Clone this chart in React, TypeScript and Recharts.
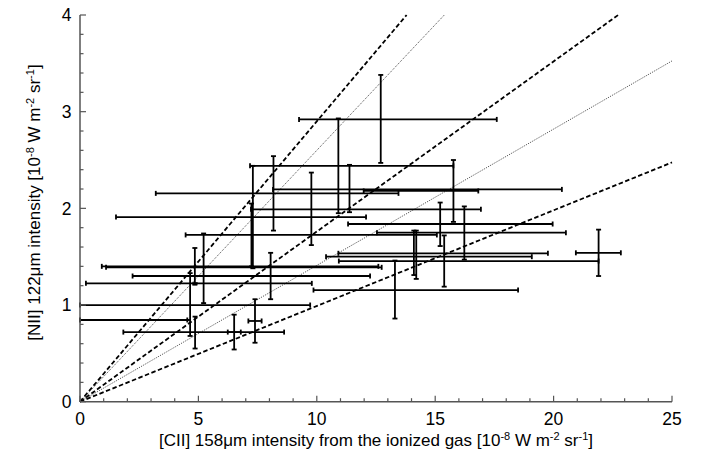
import React from 'react';
import { ComposedChart, Scatter, XAxis, YAxis, ErrorBar, ReferenceLine } from 'recharts';

// ---- data ----
const pointX = [12.7, 10.91, 8.17, 11.38, 9.77, 15.77, 7.3, 7.24, 15.21, 16.23, 14.1, 14.2, 15.38, 21.9, 13.3, 5.22, 4.85, 8.05, 4.86, 4.65, 4.53, 4.86, 6.51, 7.39];
const pointY = [2.92, 2.44, 2.155, 2.196, 1.99, 2.18, 1.91, 1.725, 1.838, 1.748, 1.535, 1.5, 1.455, 1.54, 1.155, 1.39, 1.4, 1.3, 1.224, 1.0, 0.845, 0.72, 0.72, 0.835];
const xLow = [9.25, 7.18, 3.2, 8.15, 7.22, 11.98, 1.52, 4.46, 11.32, 12.54, 10.91, 10.39, 10.93, 20.94, 9.86, 1.1, 0.92, 2.22, 0.25, 0, 0, 1.83, 6.24, 7.11];
const xHigh = [17.6, 15.77, 13.45, 20.35, 16.93, 16.82, 12.08, 15.07, 19.96, 20.52, 19.76, 19.08, 21.9, 22.84, 18.5, 12.74, 12.6, 12.25, 9.79, 9.72, 4.53, 8.62, 6.79, 7.67];
const yLow = [2.47, 1.95, 1.77, 1.96, 1.62, 1.86, 1.38, 1.4, 1.61, 1.47, 1.31, 1.27, 1.19, 1.3, 0.86, 1.02, 1.21, 1.06, 1.224, 0.68, 0.845, 0.55, 0.54, 0.61];
const yHigh = [3.38, 2.93, 2.54, 2.45, 2.37, 2.5, 2.44, 2.05, 2.06, 2.02, 1.77, 1.77, 1.72, 1.78, 1.46, 1.74, 1.59, 1.54, 1.224, 1.33, 0.845, 0.88, 0.9, 1.06];

// ratio lines through the origin
const ratioSlopes = [0.29, 0.26, 0.176, 0.141, 0.099];
const ratioStyles = ['dashed', 'dotted', 'dashed', 'dotted', 'dashed'];

const xDomain: [number, number] = [0, 25];
const yDomain: [number, number] = [0, 4];
const xTicks = [0, 1, 2, 3, 4, 5, 6, 7, 8, 9, 10, 11, 12, 13, 14, 15, 16, 17, 18, 19, 20, 21, 22, 23, 24, 25];
const yTicks = [0, 0.2, 0.4, 0.6, 0.8, 1, 1.2, 1.4, 1.6, 1.8, 2, 2.2, 2.4, 2.6, 2.8, 3, 3.2, 3.4, 3.6, 3.8, 4];

const data = pointX.map((x, i) => ({
  x,
  y: pointY[i],
  ex: [x - xLow[i], xHigh[i] - x],
  ey: [pointY[i] - yLow[i], yHigh[i] - pointY[i]],
}));

const FONT = '"Liberation Sans", Arial, Helvetica, sans-serif';
const AXIS = '#555';
const TICK_FS = 17.5;
const TITLE_FS = 17;

const isInt = (v: number) => Math.abs(v - Math.round(v)) < 1e-6;

const BottomTick = (p: any) => {
  const v = p.payload.value;
  const major = v % 5 === 0;
  return (
    <g>
      <line x1={p.x} y1={p.y} x2={p.x} y2={p.y - (major ? 6 : 3.5)} stroke={AXIS} strokeWidth={1.2} />
      {major && (
        <text x={p.x} y={p.y + 23} textAnchor="middle" fontSize={TICK_FS} fontFamily={FONT} fill="#000">{v}</text>
      )}
    </g>
  );
};
const TopTick = (p: any) => {
  const v = p.payload.value;
  const major = v % 5 === 0;
  return <line x1={p.x} y1={p.y} x2={p.x} y2={p.y + (major ? 6 : 3.5)} stroke={AXIS} strokeWidth={1.2} />;
};
const LeftTick = (p: any) => {
  const v = p.payload.value;
  const major = isInt(v);
  return (
    <g>
      <line x1={p.x} y1={p.y} x2={p.x + (major ? 6 : 3.5)} y2={p.y} stroke={AXIS} strokeWidth={1.2} />
      {major && (
        <text x={p.x - 8.5} y={p.y + 6.2} textAnchor="end" fontSize={TICK_FS} fontFamily={FONT} fill="#000">{Math.round(v)}</text>
      )}
    </g>
  );
};
const RightTick = (p: any) => {
  const v = p.payload.value;
  const major = isInt(v);
  return <line x1={p.x} y1={p.y} x2={p.x - (major ? 6 : 3.5)} y2={p.y} stroke={AXIS} strokeWidth={1.2} />;
};

const SUP = 11;
const unitSpans = () => [
  <tspan key="a">[10</tspan>,
  <tspan key="b" dy={-6} fontSize={SUP}>-8</tspan>,
  <tspan key="c" dy={6}> W m</tspan>,
  <tspan key="d" dy={-6} fontSize={SUP}>-2</tspan>,
  <tspan key="e" dy={6}> sr</tspan>,
  <tspan key="f" dy={-6} fontSize={SUP}>-1</tspan>,
  <tspan key="g" dy={6}>]</tspan>,
];

const XTitle = () => (
  <text x={376} y={445.5} textAnchor="middle" fontSize={TITLE_FS} fontFamily={FONT} fill="#000">
    <tspan>[CII] 158μm intensity from the ionized gas </tspan>
    {unitSpans()}
  </text>
);
const YTitle = () => (
  <text transform="translate(40,202.5) rotate(-90)" textAnchor="middle" fontSize={TITLE_FS} fontFamily={FONT} fill="#000">
    <tspan>[NII] 122μm intensity </tspan>
    {unitSpans()}
  </text>
);

const Nothing = () => <g />;

export default function App() {
  return (
    <div style={{ marginTop: -8, marginLeft: -8, width: 706, height: 455, background: '#fff' }}>
      <ComposedChart
        width={706}
        height={455}
        data={data}
        margin={{ top: 15, right: 34, bottom: 0, left: 0 }}
        style={{ overflow: 'visible' }}
      >
        <XAxis
          xAxisId="x"
          dataKey="x"
          type="number"
          domain={xDomain}
          ticks={xTicks}
          interval={0}
          allowDataOverflow
          height={53.3}
          tickSize={0}
          tickMargin={0}
          tickLine={false}
          tick={BottomTick}
          axisLine={{ stroke: AXIS, strokeWidth: 1.5 }}
          label={{ content: XTitle }}
        />
        <XAxis
          xAxisId="xt"
          orientation="top"
          type="number"
          domain={xDomain}
          ticks={xTicks}
          interval={0}
          allowDataOverflow
          height={0}
          tickSize={0}
          tickMargin={0}
          tickLine={false}
          tick={TopTick}
          axisLine={{ stroke: AXIS, strokeWidth: 1.5 }}
        />
        <YAxis
          yAxisId="y"
          dataKey="y"
          type="number"
          domain={yDomain}
          ticks={yTicks}
          interval={0}
          allowDataOverflow
          width={80}
          tickSize={0}
          tickMargin={0}
          tickLine={false}
          tick={LeftTick}
          axisLine={{ stroke: AXIS, strokeWidth: 1.5 }}
          label={{ content: YTitle }}
        />
        <YAxis
          yAxisId="yr"
          orientation="right"
          type="number"
          domain={yDomain}
          ticks={yTicks}
          interval={0}
          allowDataOverflow
          width={0}
          tickSize={0}
          tickMargin={0}
          tickLine={false}
          tick={RightTick}
          axisLine={{ stroke: AXIS, strokeWidth: 1.5 }}
        />
        {ratioSlopes.map((s, i) => {
          const xe = Math.min(xDomain[1], yDomain[1] / s);
          const dashed = ratioStyles[i] === 'dashed';
          return (
            <ReferenceLine
              key={i}
              xAxisId="x"
              yAxisId="y"
              segment={[{ x: 0, y: 0 }, { x: xe, y: s * xe }]}
              stroke={dashed ? '#000' : '#444'}
              strokeWidth={dashed ? 1.8 : 1}
              strokeDasharray={dashed ? '4.5 2.5' : '1 1.2'}
              ifOverflow="visible"
            />
          );
        })}
        <Scatter xAxisId="x" yAxisId="y" dataKey="y" shape={Nothing} isAnimationActive={false}>
          <ErrorBar dataKey="ex" direction="x" width={2.5} stroke="#000" strokeWidth={1.8} />
          <ErrorBar dataKey="ey" direction="y" width={2.5} stroke="#000" strokeWidth={1.8} />
        </Scatter>
      </ComposedChart>
    </div>
  );
}
